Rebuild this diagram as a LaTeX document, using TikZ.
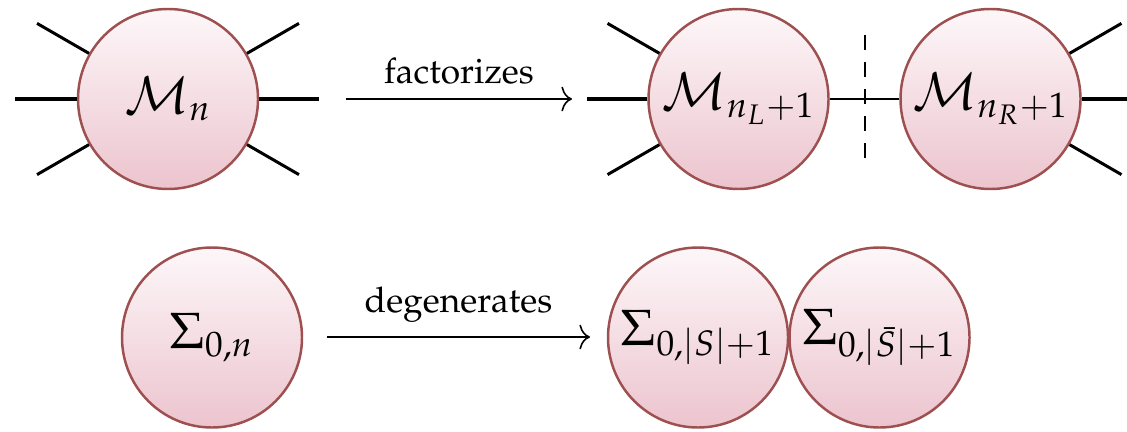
\documentclass[tikz,border=0pt]{standalone}
\usepackage[T1]{fontenc}
\usepackage{mathpazo}
\usetikzlibrary{arrows.meta}
\definecolor{bord}{RGB}{158,80,80}
\definecolor{ftop}{RGB}{253,247,249}
\definecolor{fbot}{RGB}{236,196,206}
\begin{document}
\begin{tikzpicture}[x=0.283pt,y=0.283pt,
  blob/.style={circle, draw=bord, line width=0.7pt, top color=ftop, bottom color=fbot,
    minimum size=180*0.283pt, inner sep=0pt, font=\Large},
  leg/.style={line width=0.85pt},
  link/.style={line width=0.4pt},
  cut/.style={line width=0.55pt, dash pattern=on 4.25pt off 3.4pt},
  maparrow/.style={line width=0.45pt, -{To[length=3pt,width=7pt]}},
  lab/.style={above, inner sep=4pt}]
\useasboundingbox (0,0) rectangle (1127,431);
% top row
\node[blob] (m1) at (168,332) {$\mathcal{M}_n$};
\node[blob] (m2) at (738.5,332) {$\mathcal{M}_{n_L+1}$};
\node[blob] (m3) at (990.5,332) {$\mathcal{M}_{n_R+1}$};
\draw[leg] (m1.150) -- ++(150:60);
\draw[leg] (m1.180) -- ++(180:62);
\draw[leg] (m1.210) -- ++(210:60);
\draw[leg] (m1.30) -- ++(30:60);
\draw[leg] (m1.0) -- ++(0:60);
\draw[leg] (m1.-30) -- ++(-30:60);
\draw[leg] (m2.150) -- ++(150:60);
\draw[leg] (m2.180) -- ++(180:60);
\draw[leg] (m2.210) -- ++(210:60);
\draw[leg] (m3.30) -- ++(30:60);
\draw[leg] (m3.0) -- ++(0:60);
\draw[leg] (m3.-30) -- ++(-30:60);
\draw[link] (m2.east) -- (m3.west);
\coordinate (c1) at (865,396);
\coordinate (c2) at (865,272);
\draw[cut] (c1) -- (c2);
\coordinate (a1s) at (346,332);
\coordinate (a1e) at (572,332);
\draw[maparrow] (a1s) -- node[lab] {factorizes} (a1e);
% bottom row
\node[blob] (s1) at (212,93.5) {$\Sigma_{0,n}$};
\node[blob] (s2) at (698,93.5) {$\Sigma_{0,|S|+1}$};
\node[blob] (s3) at (879.5,93.5) {$\Sigma_{0,|\bar{S}|+1}$};
\coordinate (a2s) at (327,94);
\coordinate (a2e) at (590,94);
\draw[maparrow] (a2s) -- node[lab] {degenerates} (a2e);
\end{tikzpicture}
\end{document}
